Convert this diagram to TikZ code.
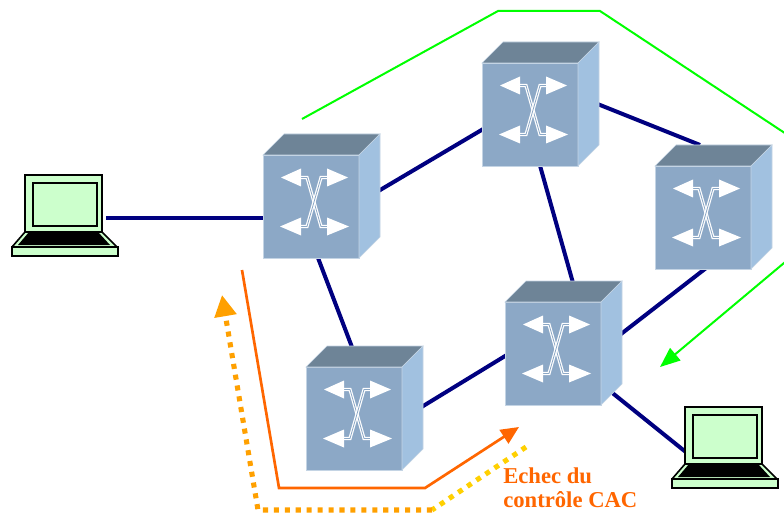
\documentclass[tikz,border=0pt]{standalone}
\usepackage{fontspec}
\setmainfont{Liberation Serif}
\usetikzlibrary{arrows.meta}

\definecolor{swfront}{RGB}{140,168,198}
\definecolor{swtop}{RGB}{110,132,151}
\definecolor{swside}{RGB}{161,193,224}
\definecolor{swedge}{RGB}{196,212,228}
\definecolor{linkblue}{RGB}{0,0,128}
\definecolor{screengreen}{RGB}{204,255,204}
\definecolor{routegreen}{RGB}{0,255,0}
\definecolor{cacorange}{RGB}{255,102,0}
\definecolor{dotorange}{RGB}{255,160,0}
\definecolor{dotyellow}{RGB}{255,208,0}

\tikzset{
  swface/.style={rectangle, anchor=north west, fill=swfront, draw=swedge,
    line width=0.4pt, inner sep=0pt, outer sep=0pt,
    minimum width=72pt, minimum height=77.25pt},
  xline/.style={draw=white, line width=0.9pt, double=swfront, double distance=0.6pt},
  link/.style={draw=linkblue, line width=3pt},
  pcscreen/.style={rectangle, fill=screengreen, draw=black, line width=1.8pt,
    inner sep=0pt, minimum width=57.75pt, minimum height=42.75pt},
  greenroute/.style={draw=routegreen, line width=1.5pt, line join=miter,
    -{Triangle[length=15pt, width=12pt]}},
  cacroute/.style={draw=cacorange, line width=2pt,
    -{Triangle[length=13.5pt, width=12pt]}},
  dotroute/.style={line width=3.8pt, dash pattern=on 3.8pt off 4.4pt},
  caclabel/.style={anchor=base west, inner sep=0pt, text=cacorange,
    font=\bfseries\fontsize{17}{18}\selectfont},
}

% switch cube: #1 name, (#2,#3) top-left corner of the front face
\newcommand{\netswitch}[3]{%
  \node[swface] (#1) at (#2,#3) {};
  \filldraw[fill=swtop, draw=swedge, line width=0.4pt]
    (#1.north west) -- ++(21,-21) -- ++(96,0) -- (#1.north east) -- cycle;
  \filldraw[fill=swside, draw=swedge, line width=0.4pt]
    (#1.north east) -- ++(21,-21) -- ++(0,103) -- (#1.south east) -- cycle;
  \begin{scope}[shift={(#1.north west)}]
    \path[xline] (37,22.5) -- (44,22.5) -- (58,71.5) -- (65,71.5);
    \path[xline] (65,22.5) -- (58,22.5) -- (44,71.5) -- (37,71.5);
    \fill[white] (18,22.5) -- (38,13.5) -- (38,31.5) -- cycle;
    \fill[white] (85,22.5) -- (64,13.5) -- (64,31.5) -- cycle;
    \fill[white] (17,71.5) -- (38,62.5) -- (38,80.5) -- cycle;
    \fill[white] (86,71.5) -- (64,62.5) -- (64,80.5) -- cycle;
  \end{scope}
}

% laptop: #1 name, (#2,#3) offset of the drawing
\newcommand{\pclaptop}[3]{%
  \begin{scope}[shift={(#2,#3)}]
    \filldraw[fill=screengreen, draw=black, line width=1.2pt, line join=round]
      (25,232) -- (102,232) -- (117,247) -- (12,247) -- cycle;
    \fill[black] (29,232) -- (98,232) -- (110,245) -- (18,245) -- cycle;
    \filldraw[fill=screengreen, draw=black, line width=1.2pt] (12,247) rectangle (118,256);
    \node[pcscreen] (#1) at (63.5,203.5) {};
    \draw[black, line width=1.1pt] (33,183) rectangle (97,226);
  \end{scope}
}

\begin{document}
\begin{tikzpicture}[x=0.75pt, y=-0.75pt]
  \useasboundingbox (0,0) rectangle (784,513);
  \fill[white] (0,0) rectangle (784,513);

  % link end points
  \coordinate (pcLport) at (106,218);
  \coordinate (swAport) at (272,218);
  \coordinate (ABa) at (370,196);   \coordinate (ABb) at (490,125);
  \coordinate (BCa) at (595,103);   \coordinate (BCb) at (700,145);
  \coordinate (BEa) at (537,155);   \coordinate (BEb) at (575,290);
  \coordinate (ADa) at (315,250);   \coordinate (ADb) at (355,355);
  \coordinate (DEa) at (415,411);   \coordinate (DEb) at (510,353);
  \coordinate (CEa) at (710,265);   \coordinate (CEb) at (612,341);
  \coordinate (EPa) at (605,387);   \coordinate (EPb) at (687,453);

  % network links
  \draw[link] (pcLport) -- (swAport);
  \draw[link] (ABa) -- (ABb);
  \draw[link] (BCa) -- (BCb);
  \draw[link] (BEa) -- (BEb);
  \draw[link] (ADa) -- (ADb);
  \draw[link] (DEa) -- (DEb);
  \draw[link] (CEa) -- (CEb);
  \draw[link] (EPa) -- (EPb);

  % switches
  \netswitch{swA}{263}{155}
  \netswitch{swB}{482}{63}
  \netswitch{swC}{655}{166}
  \netswitch{swD}{306}{367}
  \netswitch{swE}{505}{302}

  % terminals
  \pclaptop{pcL}{0}{0}
  \pclaptop{pcR}{660}{232}

  % route taken around the ring
  \coordinate (gStart) at (302,119);
  \coordinate (gTopL) at (498,11);
  \coordinate (gTopR) at (600,11);
  \coordinate (gFar) at (871,190);
  \coordinate (gEnd) at (660,367);
  \begin{scope}
    \clip (0,0) rectangle (784,513);
    \draw[greenroute] (gStart) -- (gTopL) -- (gTopR) -- (gFar) -- (gEnd);
  \end{scope}

  % admission request
  \coordinate (oStart) at (242,270);
  \coordinate (oLow) at (279,488);
  \coordinate (oMid) at (425,488);
  \coordinate (oEnd) at (519,427);
  \draw[cacroute] (oStart) -- (oLow) -- (oMid) -- (oEnd);

  % rejection returned
  \coordinate (rStart) at (526,447);
  \coordinate (rMid) at (432,510);
  \coordinate (rLow) at (258,510);
  \coordinate (rEnd) at (222,295);
  \draw[dotroute, draw=dotyellow] (rStart) -- (rMid);
  \draw[dotroute, draw=dotorange, -{Triangle[length=16pt, width=16pt]}]
    (rMid) -- (rLow) -- (rEnd);

  \node[caclabel] (cacA) at (503,483) {Echec du};
  \node[caclabel] (cacB) at (503,507) {contrôle CAC};
\end{tikzpicture}
\end{document}
